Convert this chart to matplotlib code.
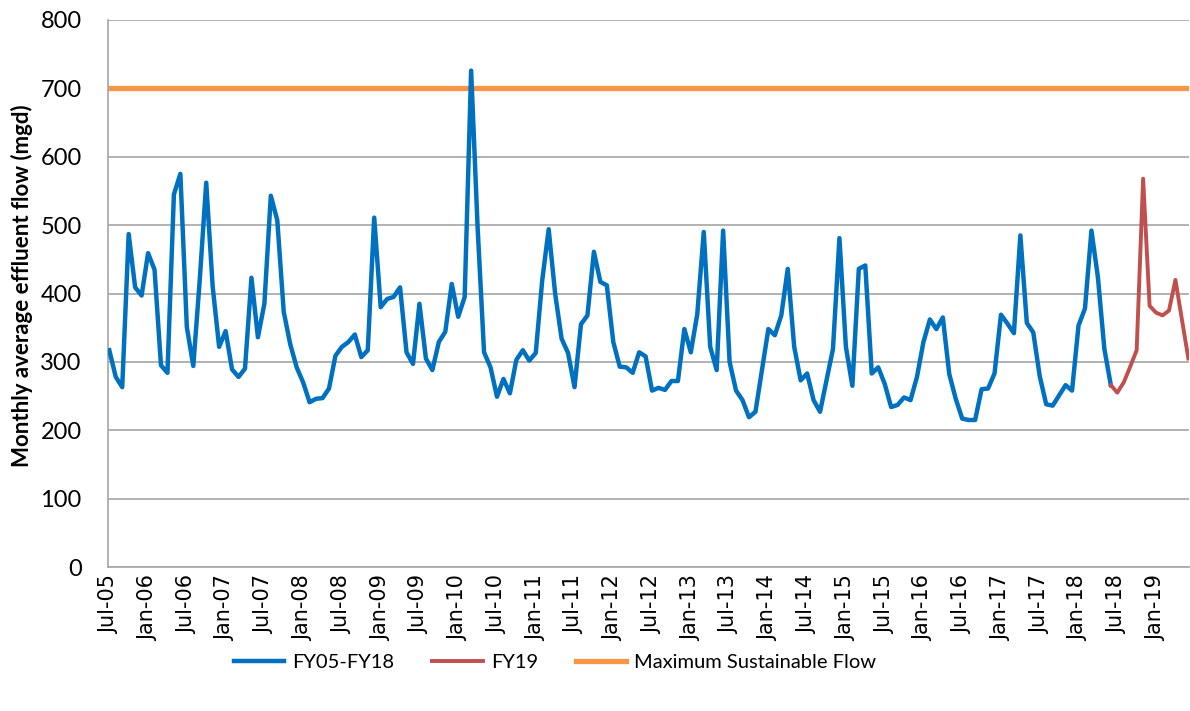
import matplotlib
matplotlib.use("Agg")
import matplotlib.pyplot as plt
import numpy as np

# Monthly average effluent flow (mgd), Jul-05 .. Jun-18
fy05_fy18 = [317, 278, 263, 487, 409, 397, 459, 435, 295, 284, 545, 575,
             351, 294, 420, 562, 410, 322, 345, 289, 278, 290, 423, 336,
             385, 543, 507, 373, 326, 292, 270, 241, 246, 247, 261, 309,
             322, 329, 340, 307, 317, 511, 380, 392, 395, 409, 314, 297,
             385, 305, 288, 329, 344, 414, 366, 395, 726, 497, 314, 292,
             249, 275, 254, 303, 317, 302, 313, 419, 494, 400, 334, 313,
             263, 355, 368, 461, 417, 412, 329, 293, 292, 284, 314, 308,
             258, 262, 259, 272, 272, 348, 314, 370, 490, 322, 288, 492,
             300, 258, 244, 219, 227, 288, 348, 339, 368, 436, 322, 273,
             283, 244, 227, 273, 319, 481, 322, 265, 436, 441, 283, 292,
             268, 234, 237, 248, 244, 278, 329, 362, 348, 365, 282, 246,
             217, 215, 215, 260, 261, 283, 369, 356, 342, 485, 357, 343,
             279, 238, 236, 251, 266, 258, 353, 378, 492, 424, 319, 266]
# FY19 (Jun-18 joining point, then Jul-18 .. Jun-19)
fy19 = [266, 255, 270, 293, 317, 568, 382, 372, 368, 375, 420, 362, 305]
max_sustainable = 700

tick_labels = ["Jul-05", "Jan-06", "Jul-06", "Jan-07", "Jul-07", "Jan-08", "Jul-08",
               "Jan-09", "Jul-09", "Jan-10", "Jul-10", "Jan-11", "Jul-11", "Jan-12",
               "Jul-12", "Jan-13", "Jul-13", "Jan-14", "Jul-14", "Jan-15", "Jul-15",
               "Jan-16", "Jul-16", "Jan-17", "Jul-17", "Jan-18", "Jul-18", "Jan-19"]

n_blue = len(fy05_fy18)
x_blue = np.arange(n_blue)
x_red = np.arange(n_blue - 1, n_blue - 1 + len(fy19))
n_total = n_blue - 1 + len(fy19)

fig = plt.figure(figsize=(11.9, 7.11), dpi=100)
ax = fig.add_axes([108 / 1190, 1 - 567 / 711, (1189 - 108) / 1190, (567 - 20) / 711])

grid_c = "#A6A6A6"
ax.set_ylim(0, 800)
ax.set_yticks(np.arange(0, 801, 100))
ax.yaxis.grid(True, color=grid_c, linewidth=1.2)
ax.set_axisbelow(True)

ax.plot(x_blue, fy05_fy18, color="#0070C0", linewidth=3.2, solid_joinstyle="round",
        label="FY05-FY18", zorder=3)
ax.plot(x_red, fy19, color="#C0504D", linewidth=2.8, solid_joinstyle="round",
        label="FY19", zorder=3)
ax.axhline(max_sustainable, color="#F79646", linewidth=3.8,
           label="Maximum Sustainable Flow", zorder=2)

ax.set_xlim(-0.2, n_total - 1 + 0.1)
ax.set_xticks(np.arange(0, 6 * len(tick_labels), 6))
ax.set_xticklabels(tick_labels, rotation=90, fontsize=15, family="DejaVu Sans")
ax.tick_params(axis="both", length=0)
ax.tick_params(axis="x", pad=6)
ax.tick_params(axis="y", pad=19)
for lab in ax.get_yticklabels():
    lab.set_fontsize(17)
    lab.set_family("Lato")

for s in ["top", "right"]:
    ax.spines[s].set_visible(False)
ax.spines["left"].set_color(grid_c)
ax.spines["bottom"].set_color(grid_c)
ax.spines["left"].set_linewidth(1.2)
ax.spines["bottom"].set_linewidth(1.2)

ax.set_ylabel("Monthly average effluent flow (mgd)", fontsize=16, fontweight="bold",
              family="Lato")
ax.yaxis.set_label_coords((33 - 108) / 1081, 0.515)

fig.legend(loc="center", bbox_to_anchor=(555 / 1190, 1 - 662 / 711), ncol=3,
           frameon=False, prop={"family": "Lato", "size": 14.5}, handlelength=2.5,
           columnspacing=1.9, handletextpad=0.4)

fig.savefig("out.png", dpi=100)
